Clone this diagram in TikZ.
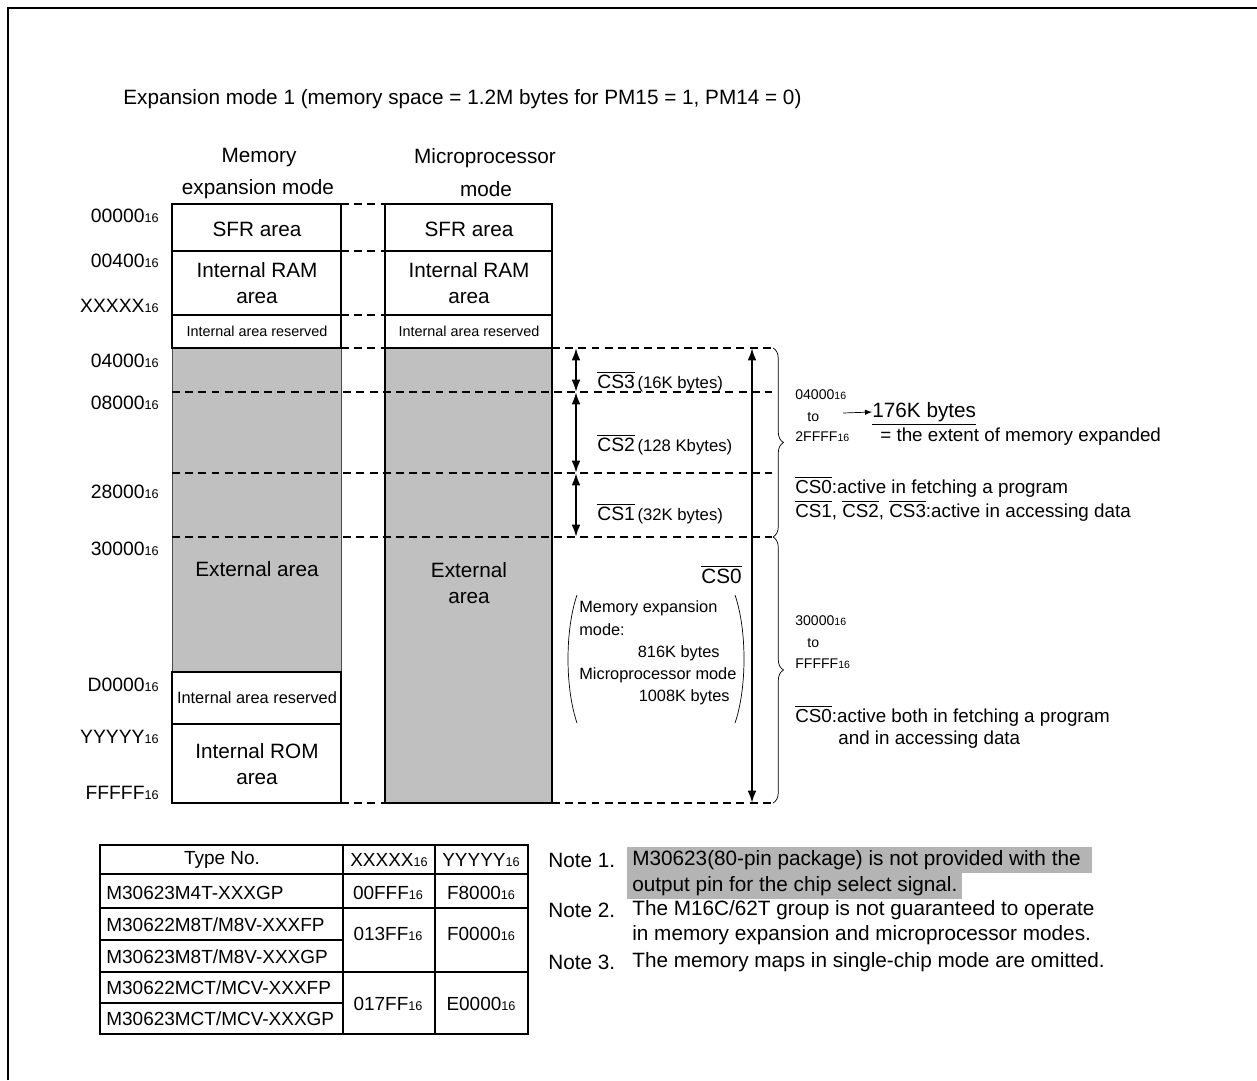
\documentclass[tikz,border=0pt]{standalone}
\usepackage{fontspec}
\setmainfont{Liberation Sans}
\usetikzlibrary{arrows.meta,decorations.pathreplacing}

\definecolor{areagray}{RGB}{192,192,192}
\definecolor{notegray}{RGB}{180,180,180}

% hex number with small 16
\newcommand{\hx}[2][7.2]{#2{\fontsize{#1}{#1}\selectfont 16}}
\newcommand{\ncs}[1]{$\overline{\mbox{CS#1}}$}

\tikzset{
  every node/.style={inner sep=0pt},
  boxline/.style={line width=1.4pt},
  sepline/.style={line width=0.8pt, dash pattern=on 4.5pt off 3pt},
  addr/.style={anchor=east, font=\fontsize{11}{13}\selectfont},
  midtxt/.style={font=\fontsize{9.3}{12.5}\selectfont},
  smalltxt/.style={font=\fontsize{8.2}{10}\selectfont},
  rangetxt/.style={anchor=west, font=\fontsize{8}{10}\selectfont},
  sidetxt/.style={anchor=west, font=\fontsize{10.7}{13}\selectfont},
  cstxt/.style={anchor=base west, font=\fontsize{11}{13}\selectfont},
  csarrow/.style={{Latex[length=7pt,width=5pt]}-{Latex[length=7pt,width=5pt]}, line width=1.2pt},
  brc/.style={decorate, decoration={brace, amplitude=6pt}, thin},
  tabtxt/.style={font=\fontsize{10.8}{13}\selectfont},
}

\begin{document}
\begin{tikzpicture}[x=0.02cm, y=-0.02cm, >=latex, font=\fontsize{11.8}{14.7}\selectfont]
\useasboundingbox (0,0) rectangle (1257,1080);

% Frame
\draw[line width=1.2pt] (8,1080) -- (8,8) -- (1257,8);

% Title
\node[anchor=west] (title) at (123,99) {Expansion mode 1 (memory space = 1.2M bytes for PM15 = 1, PM14 = 0)};

% Column headers
\node (hdrL1) at (259,158) {Memory};
\node (hdrL2) at (258,189) {expansion mode};
\node (hdrR1) at (485,158) {Microprocessor};
\node (hdrR2) at (486,189) {mode};

% Memory expansion mode column
\fill[areagray] (172,348) rectangle (341,672);
\draw[thin, black!70] (172,348) -- (172,672) (341,348) -- (341,672);
\draw[boxline] (172,348) -- (172,204) -- (341,204) -- (341,348) -- cycle;
\draw[boxline] (172,251) -- (341,251) (172,315) -- (341,315);
\draw[boxline] (172,672) rectangle (341,803);
\draw[boxline] (172,724) -- (341,724);

% Microprocessor mode column
\fill[areagray] (385,348) rectangle (552,803);
\draw[boxline] (385,204) rectangle (552,803);
\foreach \y in {251,315,348} {
  \draw[boxline] (385,\y) -- (552,\y);
}

% Area labels
\node (sfrL) at (257,229) {SFR area};
\node[align=center] (ramL) at (257,283) {Internal RAM\\area};
\node[smalltxt] (resL) at (257,331) {Internal area reserved};
\node (extL) at (257,569) {External area};
\node[midtxt] (resL2) at (257,698) {Internal area reserved};
\node[align=center] (romL) at (257,764) {Internal ROM\\area};
\node (sfrR) at (469,229) {SFR area};
\node[align=center] (ramR) at (469,283) {Internal RAM\\area};
\node[smalltxt] (resR) at (469,331) {Internal area reserved};
\node[align=center] (extR) at (469,583) {External\\area};

% Addresses
\node[addr] (a00000) at (159,216) {\hx{00000}};
\node[addr] (a00400) at (159,261) {\hx{00400}};
\node[addr] (aXXXXX) at (159,306) {\hx{XXXXX}};
\node[addr] (a04000) at (159,361) {\hx{04000}};
\node[addr] (a08000) at (159,403) {\hx{08000}};
\node[addr] (a28000) at (159,492) {\hx{28000}};
\node[addr] (a30000) at (159,549) {\hx{30000}};
\node[addr] (aD0000) at (159,685) {\hx{D0000}};
\node[addr] (aYYYYY) at (159,737) {\hx{YYYYY}};
\node[addr] (aFFFFF) at (159,793) {\hx{FFFFF}};

% Dashed boundaries
\foreach \y in {204,251,315,348,803} {
  \draw[sepline] (341,\y) -- (385,\y);
}
\foreach \y in {392,473,537} {
  \draw[sepline] (172,\y) -- (772,\y);
}
\foreach \y in {348,803} {
  \draw[sepline] (552,\y) -- (772,\y);
}

% Chip select ranges
\coordinate (cs3t) at (576,348);
\coordinate (cs3b) at (576,392);
\coordinate (cs2b) at (576,473);
\coordinate (cs1b) at (576,537);
\coordinate (cs0t) at (752,348);
\coordinate (cs0b) at (752,803);
\draw[csarrow] (cs3t) -- (cs3b);
\draw[csarrow] (cs3b) -- (cs2b);
\draw[csarrow] (cs2b) -- (cs1b);
\draw[csarrow] (cs0t) -- (cs0b);

\node[cstxt] (cs3) at (597,388) {\ncs{3}\hspace{1.5pt}{\fontsize{9.5}{11}\selectfont(16K bytes)}};
\node[cstxt] (cs2) at (597,451) {\ncs{2}\hspace{1.5pt}{\fontsize{9.5}{11}\selectfont(128 Kbytes)}};
\node[cstxt] (cs1) at (597,520) {\ncs{1}\hspace{1.5pt}{\fontsize{9.5}{11}\selectfont(32K bytes)}};
\node[anchor=base east] (cs0) at (742,583) {\ncs{0}};

% External size note
\draw (577,595) .. controls (565,630) and (565,688) .. (577,723);
\draw (735,595) .. controls (747,630) and (747,688) .. (735,723);
\node[midtxt, anchor=west] (sz1) at (579,608) {Memory expansion};
\node[midtxt, anchor=west] (sz2) at (579,630) {mode:};
\node[midtxt, anchor=east] (sz3) at (720,653) {816K bytes};
\node[midtxt, anchor=west] (sz4) at (579,675) {Microprocessor mode};
\node[midtxt, anchor=east] (sz5) at (730,697) {1008K bytes};

% Braces
\draw[brc] (773,348) -- (773,537);
\draw[brc] (773,537) -- (773,803);

% Upper range
\node[rangetxt] (r1a) at (795,395) {\hx[6]{04000}};
\node[rangetxt] (r1b) at (807,417) {to};
\node[rangetxt] (r1c) at (795,437) {\hx[6]{2FFFF}};
\coordinate (karr) at (843,413);
\node[anchor=west] (k176) at (872,412) {176K bytes};
\draw[->] (karr) -- (k176.west);
\draw ([yshift=-1.5pt]k176.south west) -- ([yshift=-1.5pt]k176.south east);
\node[sidetxt] (extent) at (880,437) {= the extent of memory expanded};
\node[sidetxt, anchor=base west] (act1) at (795,493) {\ncs{0}:active in fetching a program};
\node[sidetxt, anchor=base west] (act2) at (795,517) {\ncs{1}, \ncs{2}, \ncs{3}:active in accessing data};

% Lower range
\node[rangetxt] (r2a) at (795,621) {\hx[6]{30000}};
\node[rangetxt] (r2b) at (807,643) {to};
\node[rangetxt] (r2c) at (795,664) {\hx[6]{FFFFF}};
\node[sidetxt, anchor=base west] (act3) at (795,722) {\ncs{0}:active both in fetching a program};
\node[sidetxt] (act4) at (838,740) {and in accessing data};

% Type table
\draw[line width=1.2pt] (100,845) rectangle (528,1034);
\draw[line width=0.8pt] (343,845) -- (343,1034) (435,845) -- (435,1034);
\foreach \y in {874,908,972} {
  \draw[line width=0.8pt] (100,\y) -- (528,\y);
}
\foreach \y in {940,1003} {
  \draw[line width=0.8pt] (100,\y) -- (343,\y);
}
\node[tabtxt] (thType) at (222,860) {Type No.};
\node[tabtxt] (thX) at (389,860) {\hx{XXXXX}};
\node[tabtxt] (thY) at (481,860) {\hx{YYYYY}};
\node[tabtxt, anchor=west] (t1) at (106,893) {M30623M4T-XXXGP};
\node[tabtxt, anchor=west] (t2) at (106,925) {M30622M8T/M8V-XXXFP};
\node[tabtxt, anchor=west] (t3) at (106,957) {M30623M8T/M8V-XXXGP};
\node[tabtxt, anchor=west] (t4) at (106,988) {M30622MCT/MCV-XXXFP};
\node[tabtxt, anchor=west] (t5) at (106,1019) {M30623MCT/MCV-XXXGP};
\node[tabtxt] (x1) at (388,893) {\hx{00FFF}};
\node[tabtxt] (y1) at (481,893) {\hx{F8000}};
\node[tabtxt] (x2) at (388,934) {\hx{013FF}};
\node[tabtxt] (y2) at (481,934) {\hx{F0000}};
\node[tabtxt] (x3) at (388,1004) {\hx{017FF}};
\node[tabtxt] (y3) at (481,1004) {\hx{E0000}};

% Notes
\fill[notegray] (627,847) rectangle (1092,873);
\fill[notegray] (627,873) rectangle (962,899);
\node[anchor=west] (n1) at (548,860) {Note 1.};
\node[anchor=west] (n1a) at (632,860) {M30623(80-pin package) is not provided with the};
\node[anchor=west] (n1b) at (632,886) {output pin for the chip select signal.};
\node[anchor=west] (n2) at (548,910) {Note 2.};
\node[anchor=west] (n2a) at (632,910) {The M16C/62T group is not guaranteed to operate};
\node[anchor=west] (n2b) at (632,935) {in memory expansion and microprocessor modes.};
\node[anchor=west] (n3) at (548,962) {Note 3.};
\node[anchor=west] (n3a) at (632,962) {The memory maps in single-chip mode are omitted.};

\end{tikzpicture}
\end{document}
